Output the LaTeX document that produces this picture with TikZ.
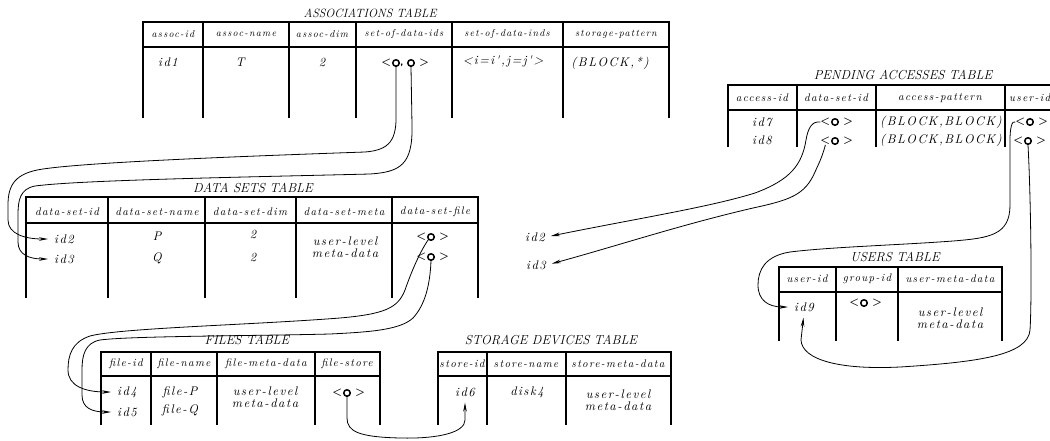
\documentclass[tikz,border=0pt]{standalone}
\usepackage{fontspec}
\usepackage{tikz}
\usetikzlibrary{positioning,arrows.meta}
\newfontface\spacedit[LetterSpace=12]{lmroman10-italic.otf}
\tikzset{
  tblline/.style={line width=1.5pt},
  tbltitle/.style={font=\fontsize{13}{15}\selectfont\itshape, inner sep=0pt},
  colhead/.style={font=\fontsize{11}{12}\selectfont\spacedit, inner sep=0pt},
  smallhead/.style={colhead, font=\fontsize{10}{12}\selectfont\spacedit},
  cell/.style={font=\fontsize{12.5}{12.5}\selectfont\spacedit, inner sep=1pt, align=center},
  ptrdot/.style={circle, draw, line width=1.5pt, minimum size=6.5pt, inner sep=0pt},
  ptrbrk/.style={font=\fontsize{11}{14}\selectfont\sffamily\bfseries, inner sep=0pt},
  link/.style={line width=0.8pt},
  linkarrow/.style={link, -{Stealth[length=9pt,width=3.6pt]}, shorten >=5pt}
}
% left, right, top, header line, bottom, inner column lines
\newcommand{\tblframe}[6]{%
  \draw[tblline] (#1,#5) -- (#1,#3) -- (#2,#3) -- (#2,#5);
  \draw[tblline] (#1,#4) -- (#2,#4);
  \foreach \cx in {#6} {\draw[tblline] (\cx,#3) -- (\cx,#5);}
}
% pointer cell: name, position
\newcommand{\ptrcell}[2]{%
  \node[ptrdot] (#1) at (#2) {};
  \node[ptrbrk, left=0.5pt of #1] (#1l) {<};
  \node[ptrbrk, right=4pt of #1] (#1r) {>};
}

\begin{document}
\begin{tikzpicture}[x=1pt, y=-1pt]
  \useasboundingbox (0,0) rectangle (1050,440);
  \clip (0,0) rectangle (1050,440);

  % associations table
  \node[tbltitle, font=\fontsize{12}{14}\selectfont\itshape] (astitle) at (370,13) {ASSOCIATIONS TABLE};
  \tblframe{143}{669}{22}{47}{118}{203,289,356,452,563}
  \node[smallhead] (ash1) at (173,34) {assoc-id};
  \node[smallhead] (ash2) at (246,34) {assoc-name};
  \node[smallhead] (ash3) at (322,34) {assoc-dim};
  \node[smallhead] (ash4) at (404,34) {set-of-data-ids};
  \node[smallhead] (ash5) at (507,34) {set-of-data-inds};
  \node[smallhead] (ash6) at (616,34) {storage-pattern};
  \node[cell] (asid1) at (168,62) {id1};
  \node[cell] (asname) at (240,62) {T};
  \node[cell] (asdim) at (322,62) {2};
  \node[ptrdot] (a1) at (396,63) {};
  \node[ptrdot] (a2) at (411,63) {};
  \node[ptrbrk, left=0.5pt of a1] (a1l) {<};
  \node[ptrbrk, right=0pt of a1, yshift=-2pt] (acomma) {,};
  \node[ptrbrk, right=4pt of a2] (a2r) {>};
  \node[cell] (asinds) at (503,61) {<i=i',j=j'>};
  \node[cell] (aspat) at (610,63) {(BLOCK,*)};

  % data sets table
  \node[tbltitle] (dstitle) at (253,188) {DATA SETS TABLE};
  \tblframe{26}{478}{197}{223}{298}{108,205,296,392}
  \node[colhead] (dsh1) at (67,212) {data-set-id};
  \node[colhead] (dsh2) at (157,212) {data-set-name};
  \node[colhead] (dsh3) at (250,212) {data-set-dim};
  \node[colhead] (dsh4) at (344,212) {data-set-meta};
  \node[colhead] (dsh5) at (435,212) {data-set-file};
  \node[cell] (dsid2) at (64,239) {id2};
  \node[cell] (dsid3) at (64,259) {id3};
  \node[cell] (dsnp) at (157,236) {P};
  \node[cell] (dsnq) at (157,258) {Q};
  \node[cell] (dsd1) at (253,234) {2};
  \node[cell] (dsd2) at (253,257) {2};
  \node[cell] (dsmeta) at (345,247) {user-level\\meta-data};
  \ptrcell{dsf1}{431,237}
  \ptrcell{dsf2}{431,257}

  % files table
  \node[tbltitle] (ftitle) at (247,340) {FILES TABLE};
  \tblframe{101}{380}{352}{376}{425}{151,217,315}
  \node[colhead] (fh1) at (126,364) {file-id};
  \node[colhead] (fh2) at (184,364) {file-name};
  \node[colhead] (fh3) at (266,364) {file-meta-data};
  \node[colhead] (fh4) at (347,364) {file-store};
  \node[cell] (fid4) at (127,392) {id4};
  \node[cell] (fid5) at (127,412) {id5};
  \node[cell] (fnp) at (180,392) {file-P};
  \node[cell] (fnq) at (180,410) {file-Q};
  \node[cell] (fmeta) at (265,397) {user-level\\meta-data};
  \ptrcell{fs1}{347,393}

  % storage devices table
  \node[tbltitle] (sttitle) at (551,340) {STORAGE DEVICES TABLE};
  \tblframe{438}{671}{352}{376}{425}{487,566}
  \node[colhead] (sth1) at (462,364) {store-id};
  \node[colhead] (sth2) at (526,364) {store-name};
  \node[colhead] (sth3) at (618,364) {store-meta-data};
  \node[cell] (sid6) at (465,392) {id6};
  \node[cell] (sdisk) at (527,392) {disk4};
  \node[cell] (smeta) at (618,400) {user-level\\meta-data};

  % pending accesses table
  \node[tbltitle] (patitle) at (903,75) {PENDING ACCESSES TABLE};
  \tblframe{728}{1080}{85}{110}{147}{797,876,1005}
  \node[colhead] (pah1) at (762,98) {access-id};
  \node[colhead] (pah2) at (836,98) {data-set-id};
  \node[colhead] (pah3) at (940,98) {access-pattern};
  \node[colhead, anchor=west] (pah4) at (1009,98) {user-id};
  \node[cell] (paid7) at (762,122) {id7};
  \node[cell] (paid8) at (762,140) {id8};
  \ptrcell{pds1}{835,122}
  \ptrcell{pds2}{835,141}
  \node[cell] (papat1) at (941,122) {(BLOCK,BLOCK)};
  \node[cell] (papat2) at (941,140) {(BLOCK,BLOCK)};
  \ptrcell{pu1}{1030,122}
  \ptrcell{pu2}{1028,141}

  % users table
  \node[tbltitle] (utitle) at (895,257) {USERS TABLE};
  \tblframe{779}{1002}{267}{292}{341}{836,898}
  \node[colhead] (uh1) at (807,279) {user-id};
  \node[colhead] (uh2) at (867,279) {group-id};
  \node[colhead] (uh3) at (950,279) {user-meta-data};
  \node[cell] (uid9) at (804,307) {id9};
  \ptrcell{ug1}{864,303}
  \node[cell] (umeta) at (950,318) {user-level\\meta-data};

  % loose ids
  \node[cell] (freeid2) at (535,237) {id2};
  \node[cell] (freeid3) at (536,265) {id3};

  % connectors
  \draw[linkarrow] (a1.south) -- (396,112) .. controls (397,140) and (390,150) .. (365,152)
    .. controls (250,156) and (90,162) .. (43,169) .. controls (15,173) and (8,185) .. (8,205)
    -- (8,220) .. controls (8,234) and (25,239) .. (dsid2.west);
  \draw[linkarrow] (a2.south) -- (412,125) .. controls (413,165) and (400,172) .. (370,174)
    .. controls (250,177) and (80,180) .. (35,186) .. controls (20,189) and (18,200) .. (18,215)
    -- (18,242) .. controls (18,255) and (30,259) .. (dsid3.west);
  \draw[linkarrow] (dsf1.south west) .. controls (420,252) and (412,270) .. (405,290)
    .. controls (398,308) and (385,314) .. (340,318) .. controls (250,325) and (120,328) .. (90,336)
    .. controls (72,342) and (68,355) .. (68,370) .. controls (68,386) and (85,392) .. (fid4.west);
  \draw[linkarrow] (dsf2.south) .. controls (430,285) and (425,305) .. (413,318)
    .. controls (400,330) and (370,332) .. (330,334) .. controls (250,336) and (130,336) .. (100,340)
    .. controls (85,343) and (82,355) .. (82,370) -- (82,395) .. controls (82,408) and (92,412) .. (fid5.west);
  \draw[linkarrow] (fs1.south) -- (347,418) .. controls (347,432) and (360,437) .. (400,438)
    .. controls (440,439) and (465,432) .. (465,420) -- (sid6.south);
  \draw[linkarrow] (pds1l.west) .. controls (812,121) and (808,128) .. (806,140)
    .. controls (802,165) and (790,180) .. (755,193) .. controls (710,207) and (640,218) .. (freeid2.east);
  \draw[linkarrow] (pds2l.south) .. controls (822,158) and (818,165) .. (815,172)
    .. controls (805,195) and (790,200) .. (753,208) .. controls (680,225) and (620,245) .. (freeid3.east);
  \draw[linkarrow] (pu1l.west) .. controls (1012,120) and (1010,128) .. (1010,140) -- (1010,205)
    .. controls (1010,235) and (990,238) .. (953,241) .. controls (900,245) and (830,247) .. (790,252)
    .. controls (765,256) and (758,270) .. (758,285) .. controls (758,300) and (768,307) .. (uid9.west);
  \draw[linkarrow] (pu2.south) .. controls (1031,200) and (1032,300) .. (1030,330)
    .. controls (1028,355) and (980,362) .. (900,367) .. controls (840,370) and (802,360) .. (801,340)
    -- (uid9.south);
\end{tikzpicture}
\end{document}
